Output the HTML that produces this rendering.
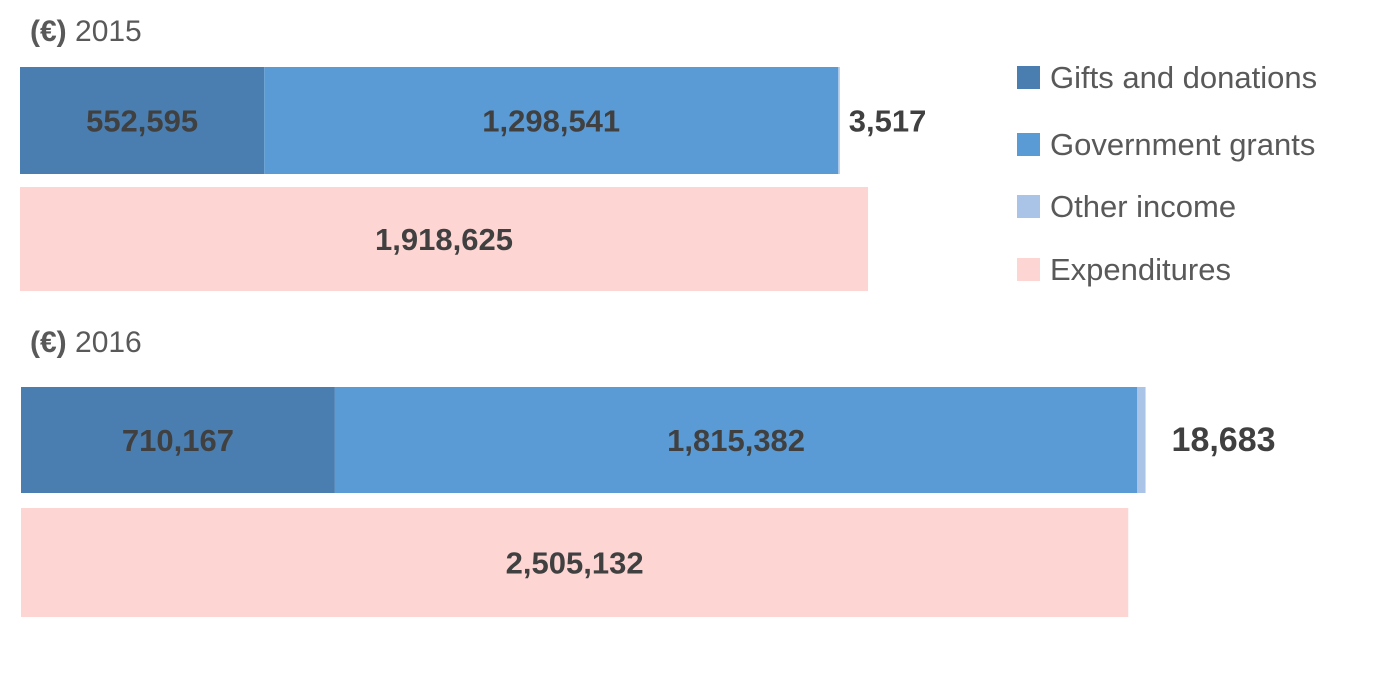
<!DOCTYPE html>
<html><head><meta charset="utf-8"><style>
body{margin:0;width:1379px;height:680px;background:#fff;overflow:hidden;font-family:"Liberation Sans",sans-serif;}
svg text{font-family:"Liberation Sans",sans-serif;}
</style></head><body>
<svg id="chart" width="1379" height="680" xmlns="http://www.w3.org/2000/svg"></svg>
<script>
const years = ["2015","2016"];
const gifts = [552595, 710167];
const grants = [1298541, 1815382];
const other = [3517, 18683];
const expenditures = [1918625, 2505132];
const legendLabels = ["Gifts and donations","Government grants","Other income","Expenditures"];
const colors = ["#4a7eb0","#5b9bd5","#a9c4e6","#fdd5d3"];

const svg = document.getElementById('chart');
const NS = "http://www.w3.org/2000/svg";
const x0 = 20, k = 0.000442;
function xs(v){ return v * k; }
function mk(tag, attrs, name){
  const e = document.createElementNS(NS, tag);
  for (const a in attrs) e.setAttribute(a, attrs[a]);
  
  
  svg.appendChild(e); return e;
}
function fmt(v){ return v.toLocaleString('en-US'); }
const panelY = [[30,67,174,187,291],[341,387,493,508,617]];
years.forEach((yr,i)=>{
  const [ty, iy0, iy1, ey0, ey1] = panelY[i];
  const t = mk('text',{x:30,y:ty+11,'font-size':30,fill:'#595959'},'year-title-'+yr);
  t.innerHTML = '<tspan font-weight="bold">(€)</tspan>  '+yr;
  const xa = x0 + (i?1:0);
  let cur = xa;
  const segs = [gifts[i], grants[i], other[i]];
  const nm = ['gifts','grants','other'];
  segs.forEach((v,j)=>{
    const w = xs(v);
    mk('rect',{x:cur,y:iy0,width:w,height:iy1-iy0,fill:colors[j]},'bar-'+nm[j]+'-'+yr);
    if (j<2){
      const l = mk('text',{x:cur+w/2,y:(iy0+iy1)/2+11,'font-size':31,'font-weight':'bold',fill:'#404040','text-anchor':'middle'},'label-'+nm[j]+'-'+yr);
      l.textContent = fmt(v);
    } else {
      const l = mk('text',{x:cur+w+(i?26:9),y:(iy0+iy1)/2+11,'font-size':i?34:31,'font-weight':'bold',fill:'#404040'},'label-other-'+yr);
      l.textContent = fmt(v);
    }
    cur += w;
  });
  const we = xs(expenditures[i]);
  mk('rect',{x:xa,y:ey0,width:we,height:ey1-ey0,fill:colors[3]},'bar-expenditures-'+yr);
  const le = mk('text',{x:xa+we/2,y:(ey0+ey1)/2+11,'font-size':31,'font-weight':'bold',fill:'#404040','text-anchor':'middle'},'label-expenditures-'+yr);
  le.textContent = fmt(expenditures[i]);
});
const ly = [77,144,206,269];
legendLabels.forEach((l,i)=>{
  mk('rect',{x:1017,y:ly[i]-11,width:23,height:23,fill:colors[i]},'legend-swatch-'+i);
  const t = mk('text',{x:1050,y:ly[i]+11,'font-size':31,fill:'#595959'},'legend-entry-'+i);
  t.textContent = l;
});
</script>
</body></html>
